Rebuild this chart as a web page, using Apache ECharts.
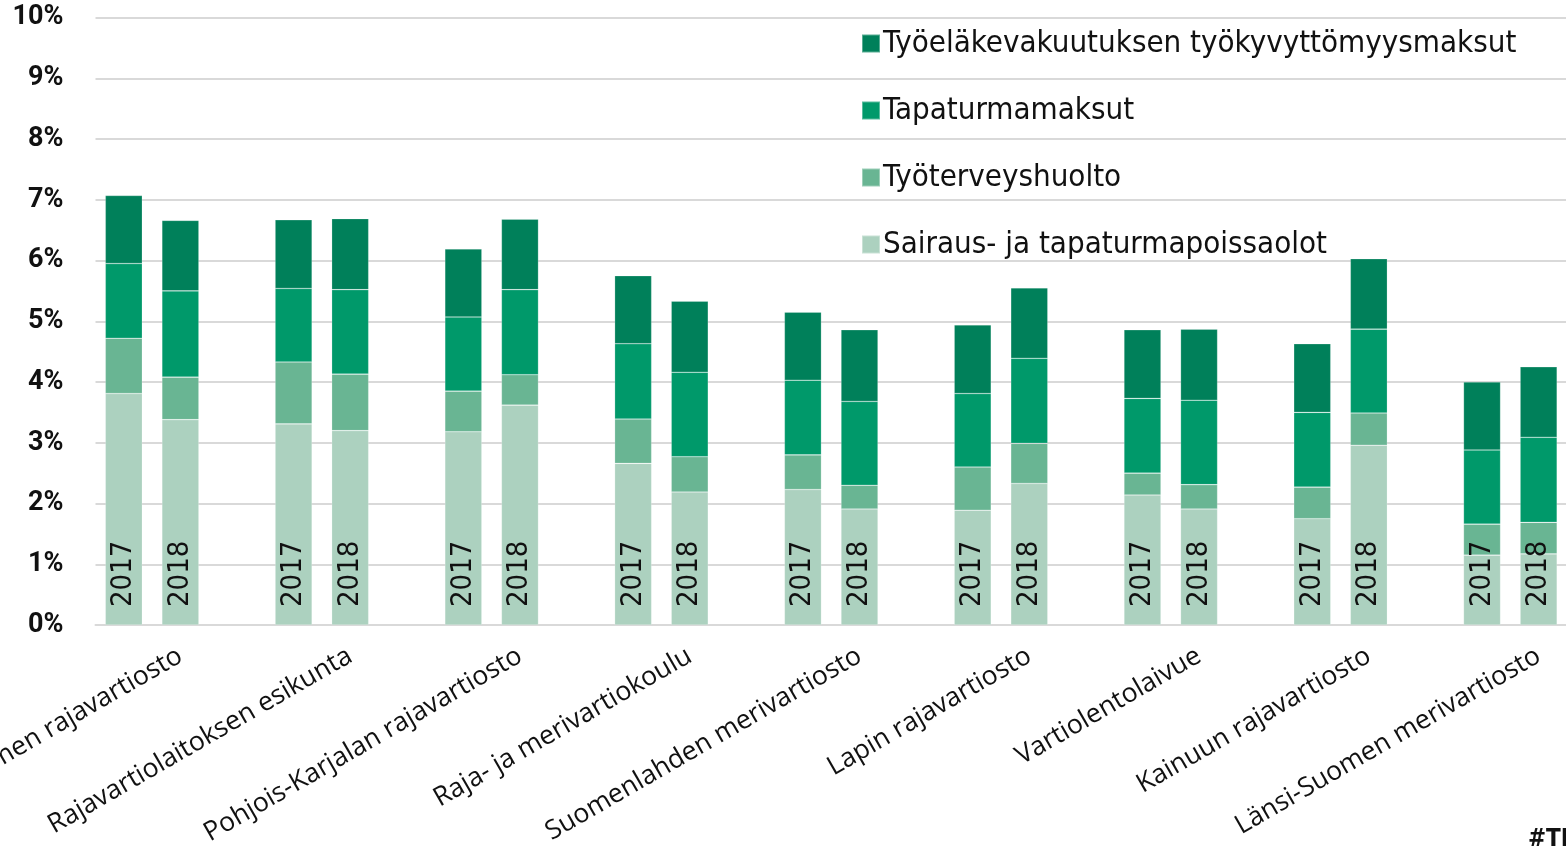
<!DOCTYPE html>
<html>
<head>
<meta charset="utf-8">
<script src="https://cdn.jsdelivr.net/npm/echarts@6/dist/echarts.min.js"></script>
<style>html,body{margin:0;padding:0;background:#fff;}#c{width:1566px;height:849px;}</style>
</head>
<body>
<div id="c"></div>
<script>
const groups = ['Kaakkois-Suomen rajavartiosto', 'Rajavartiolaitoksen esikunta', 'Pohjois-Karjalan rajavartiosto', 'Raja- ja merivartiokoulu', 'Suomenlahden merivartiosto', 'Lapin rajavartiosto', 'Vartiolentolaivue', 'Kainuun rajavartiosto', 'Länsi-Suomen merivartiosto'];
const years = ['2017', '2018'];
const seriesNames = ['Sairaus- ja tapaturmapoissaolot', 'Työterveyshuolto', 'Tapaturmamaksut', 'Työeläkevakuutuksen työkyvyttömyysmaksut'];
const sairaus2017 = [3.81, 3.31, 3.18, 2.66, 2.23, 1.89, 2.14, 1.75, 1.15];
const sairaus2018 = [3.38, 3.20, 3.62, 2.19, 1.91, 2.33, 1.91, 2.96, 1.17];
const tyoterveys2017 = [0.91, 1.02, 0.67, 0.73, 0.57, 0.71, 0.36, 0.52, 0.51];
const tyoterveys2018 = [0.70, 0.93, 0.50, 0.58, 0.39, 0.66, 0.40, 0.53, 0.52];
const tapaturma2017 = [1.23, 1.21, 1.22, 1.24, 1.23, 1.21, 1.23, 1.23, 1.22];
const tapaturma2018 = [1.42, 1.39, 1.40, 1.39, 1.38, 1.40, 1.39, 1.38, 1.40];
const tyoelake2017 = [1.12, 1.13, 1.12, 1.12, 1.12, 1.13, 1.13, 1.13, 1.12];
const tyoelake2018 = [1.16, 1.17, 1.16, 1.17, 1.18, 1.16, 1.17, 1.16, 1.16];
const yTicks = [0, 1, 2, 3, 4, 5, 6, 7, 8, 9, 10];

const colors = ['#acd1bf', '#69b593', '#00996a', '#00805a'];

// three slots per group: 2017, 2018, empty gap
function slots(a17, a18) {
  const out = [];
  for (let i = 0; i < groups.length; i++) { out.push(a17[i], a18[i], null); }
  return out;
}
const cats = [];
for (let i = 0; i < groups.length; i++) { cats.push('g' + i + 'a', 'g' + i + 'b', 'g' + i + 'c'); }

const data = [
  slots(sairaus2017, sairaus2018),
  slots(tyoterveys2017, tyoterveys2018),
  slots(tapaturma2017, tapaturma2018),
  slots(tyoelake2017, tyoelake2018)
];

const condensed = '"Liberation Sans Narrow", "DejaVu Sans Condensed", sans-serif';

const series = data.map((d, k) => ({
  name: seriesNames[k],
  type: 'bar',
  stack: 'total',
  barWidth: 37,
  data: d,
  itemStyle: { color: colors[k], borderColor: 'rgba(255,255,255,0.35)', borderWidth: 0.6 },
  label: k === 0 ? {
    show: true,
    position: 'insideBottom',
    distance: 18,
    rotate: 90,
    align: 'left',
    verticalAlign: 'middle',
    fontFamily: condensed,
    fontSize: 29,
    color: '#111',
    formatter: p => years[p.dataIndex % 3] || ''
  } : { show: false },
  emphasis: { disabled: true }
}));

const chart = echarts.init(document.getElementById('c'), null, { renderer: 'canvas' });
chart.setOption({
  animation: false,
  backgroundColor: '#fff',
  grid: { left: 95.5, right: -57.5, top: 17.5, bottom: 224, containLabel: false, outerBoundsMode: 'none' },
  legend: {
    orient: 'vertical',
    left: 856,
    top: 23,
    itemWidth: 18,
    itemHeight: 18,
    itemGap: 36,
    icon: 'rect',
    data: [seriesNames[3], seriesNames[2], seriesNames[1], seriesNames[0]],
    textStyle: {
      fontFamily: condensed,
      fontSize: 31,
      lineHeight: 31,
      color: '#111',
      padding: [0, 0, 0, -2]
    }
  },
  xAxis: {
    type: 'category',
    data: cats,
    axisTick: { show: false },
    axisLine: { show: true, lineStyle: { color: '#d9d9d9', width: 2 } },
    axisLabel: {
      interval: 0,
      rotate: 30,
      margin: 29,
      fontFamily: '"Open Sans", sans-serif',
      fontSize: 26.5,
      color: '#111',
      formatter: (v, i) => (i % 3 === 1 ? groups[Math.floor(i / 3)] : '')
    }
  },
  yAxis: {
    type: 'value',
    min: yTicks[0],
    max: yTicks[yTicks.length - 1],
    interval: 1,
    axisLine: { show: false },
    axisTick: { show: false },
    splitLine: { lineStyle: { color: '#d9d9d9', width: 2 } },
    axisLabel: {
      margin: 32,
      fontFamily: 'Roboto, sans-serif',
      fontWeight: 'bold',
      fontSize: 27,
      color: '#111',
      formatter: '{value}%'
    }
  },
  graphic: [{
    type: 'text',
    left: 1528,
    top: 828,
    style: { text: '#TIP', font: 'bold 24px "Liberation Sans Narrow", "DejaVu Sans Condensed", sans-serif', fill: '#111' }
  }],
  series: series
});
</script>
</body>
</html>
